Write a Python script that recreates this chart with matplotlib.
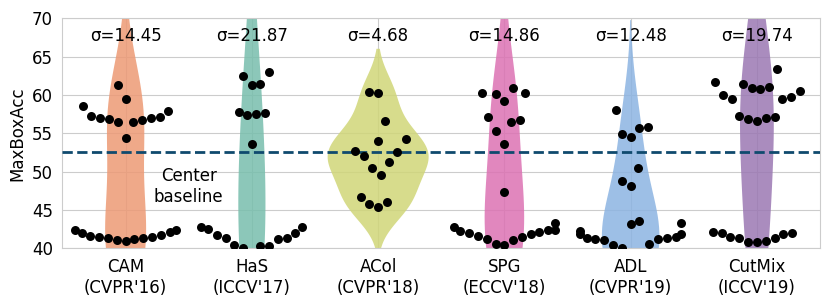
import numpy as np
import pandas as pd
import matplotlib
matplotlib.use("Agg")
import matplotlib.pyplot as plt
import seaborn as sns
from matplotlib.colors import to_rgb

# ---------------- data ----------------
methods = ["CAM", "HaS", "ACol", "SPG", "ADL", "CutMix"]
venues = ["CVPR'16", "ICCV'17", "CVPR'18", "ECCV'18", "CVPR'19", "ICCV'19"]
sigma_labels = ["14.45", "21.87", "4.68", "14.86", "12.48", "19.74"]
center_baseline = 52.54

cam_upper = [54.35, 56.43, 56.52, 56.74, 56.87, 56.95, 57.04, 57.08, 57.26, 57.9, 58.56, 59.47, 61.35]
cam_lower = [41.0, 41.08, 41.17, 41.28, 41.32, 41.43, 41.52, 41.65, 41.74, 41.95, 42.08, 42.36, 42.4]
cam_hidden = [4.0, 8.0, 34.0, 36.0]          # trials below the visible range (estimated)

has_upper = [53.6, 57.4, 57.5, 57.7, 57.75, 61.3, 61.48, 62.5, 63.0]
has_lower = [40.0, 40.3, 40.32, 40.43, 41.2, 41.38, 41.4, 41.73, 41.96, 42.47, 42.73, 42.75]
has_hidden = [39.1, 1.0, 1.5, 2.0, 2.5, 3.0, 4.0, 5.0, 6.0]

acol_values = [45.35, 45.74, 46.08, 46.73, 49.56, 50.43, 51.3, 52.04, 52.6, 52.73,
               54.0, 54.2, 56.65, 60.22, 60.43]

spg_upper = [47.4, 53.6, 55.34, 56.52, 56.74, 57.17, 59.25, 60.08, 60.3, 60.32, 60.87]
spg_lower = [40.43, 40.55, 41.08, 41.2, 41.43, 41.65, 41.82, 41.96, 42.16, 42.26, 42.4, 42.42, 42.75, 43.33]
spg_hidden = [8.0, 12.0, 14.0, 17.0, 20.0]

adl_upper = [43.13, 43.6, 48.13, 48.78, 50.43, 54.56, 54.9, 55.73, 55.78, 58.04]
adl_lower = [40.0, 40.43, 40.52, 41.08, 41.2, 41.22, 41.3, 41.37, 41.43, 41.8, 41.82, 42.28, 43.35]
adl_hidden = [39.1, 38.8, 36.0, 34.0, 31.0, 27.0, 20.0, 12.0, 5.0]

cutmix_upper = [56.65, 56.87, 56.95, 57.17, 57.3, 59.47, 59.47, 59.7, 60.0, 60.52, 60.74,
                60.87, 61.0, 61.43, 61.73, 63.4]
cutmix_lower = [40.87, 40.87, 40.96, 41.3, 41.3, 41.43, 41.82, 41.95, 41.95, 42.16]
cutmix_hidden = [0.5, 1.0, 1.5, 2.5]

method_values = {
    "CAM": cam_upper + cam_lower + cam_hidden,
    "HaS": has_upper + has_lower + has_hidden,
    "ACol": acol_values,
    "SPG": spg_upper + spg_lower + spg_hidden,
    "ADL": adl_upper + adl_lower + adl_hidden,
    "CutMix": cutmix_upper + cutmix_lower + cutmix_hidden,
}

# ---------------- style ----------------
violin_colors = ["#F0A98A", "#8CC8B9", "#D7DC8C", "#E187BE", "#9DBFE6", "#AA8CBE"]
alpha = 0.85
base_colors = [tuple(np.clip((np.array(to_rgb(c)) - (1 - alpha)) / alpha, 0, 1)) for c in violin_colors]

sns.set_style("whitegrid")
plt.rcParams["font.family"] = ["DejaVu Sans"]
plt.rcParams["text.color"] = "black"
plt.rcParams["axes.labelcolor"] = "black"
plt.rcParams["xtick.color"] = "black"
plt.rcParams["ytick.color"] = "black"

W_IN, H_IN, DPI = 8.3, 3.02, 100
fig = plt.figure(figsize=(W_IN, H_IN), dpi=DPI)
ax_left, ax_bottom, ax_w, ax_h = 0.0753, 0.178, 0.9127, 0.761
ax = fig.add_axes([ax_left, ax_bottom, ax_w, ax_h])

df = pd.DataFrame({
    "method": [m for m in methods for _ in method_values[m]],
    "value": [v for m in methods for v in method_values[m]],
})

# one shared normalisation (equal areas) -> no hue; colours applied per violin afterwards
sns.violinplot(data=df, x="method", y="value", order=methods, color=base_colors[0],
               inner=None, cut=2, density_norm="area", common_norm=False, width=0.8,
               linewidth=0, saturation=1, ax=ax)
violin_polys = [c for c in ax.collections]
for coll, col in zip(violin_polys, base_colors):
    coll.set_facecolor(col)
    coll.set_alpha(alpha)
    coll.set_edgecolor("none")
    coll.set_zorder(1)

# ---------------- swarm layout (seaborn-style beeswarm) ----------------
def beeswarm_offsets(values, diam_px, y_scale, half_width_px):
    vals = np.asarray(values, float)
    order = np.argsort(vals, kind="stable")
    r = diam_px / 2.0
    pts = [np.array([0.0, v * y_scale, r]) for v in vals[order]]
    swarm = [pts[0]]
    for p in pts[1:]:
        neigh = []
        for q in reversed(swarm):
            if p[1] - q[1] < p[2] + q[2]:
                neigh.append(q)
            else:
                break
        neigh = np.array(neigh).reshape(-1, 3)
        cands = [p.copy()]
        left_first = True
        for q in neigh:
            dy = p[1] - q[1]
            dx = np.sqrt(max((p[2] + q[2]) ** 2 - dy ** 2, 0)) * 1.05
            cl = np.array([q[0] - dx, p[1], p[2]])
            cr = np.array([q[0] + dx, p[1], p[2]])
            cands.extend([cl, cr] if left_first else [cr, cl])
            left_first = not left_first
        cands = np.array(cands)
        cands = cands[np.argsort(np.abs(cands[:, 0]), kind="stable")]
        chosen = cands[0]
        if len(neigh):
            for c in cands:
                d2 = (neigh[:, 0] - c[0]) ** 2 + (neigh[:, 1] - c[1]) ** 2
                if np.all(d2 >= (neigh[:, 2] + c[2]) ** 2 - 1e-9):
                    chosen = c
                    break
        swarm.append(chosen)
    xs = np.clip(np.array([s[0] for s in swarm]), -half_width_px, half_width_px)
    out = np.empty(len(vals))
    out[order] = xs
    return out

px_per_cat = W_IN * DPI * ax_w / len(methods)
marker_diam_px = 8.4
layout_y_scale = 1.9   # px per unit used for the swarm layout
for i, m in enumerate(methods):
    vals = np.array(method_values[m])
    offs = beeswarm_offsets(vals, marker_diam_px, layout_y_scale, 0.4 * px_per_cat)
    ax.scatter(i + offs / px_per_cat, vals, s=(9.0 * 72 / DPI) ** 2, color="black",
               linewidths=0, zorder=4)

ax.axhline(center_baseline, color="#0f4a6e", lw=2, ls="--", zorder=3)

for i, s in enumerate(sigma_labels):
    ax.text(i, 67.65, f"σ={s}", ha="center", va="center", fontsize=12, zorder=5)
ax.text(0.5, 48.1, "Center\nbaseline", ha="center", va="center", fontsize=12, zorder=5)

ax.set_xlim(-0.5, len(methods) - 0.5)
ax.set_ylim(40, 70)
ax.set_yticks([40, 45, 50, 55, 60, 65, 70])
ax.set_xticks(range(len(methods)))
ax.set_xticklabels([f"{m}\n({v})" for m, v in zip(methods, venues)], fontsize=12)
ax.tick_params(axis="y", labelsize=12)
ax.set_xlabel("")
ax.set_ylabel("MaxBoxAcc", fontsize=12)
ax.xaxis.grid(True)
ax.yaxis.grid(True)
ax.set_axisbelow(True)

fig.savefig("out.png", dpi=DPI)
